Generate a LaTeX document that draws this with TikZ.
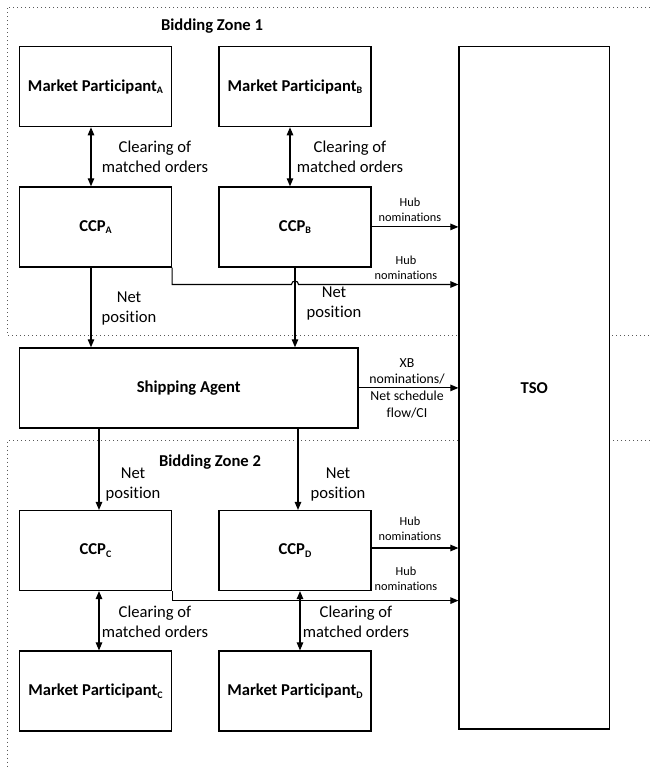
\documentclass[tikz,border=0pt]{standalone}
\usepackage{fontspec}
\setmainfont{Carlito}[Ligatures=NoCommon]
\usetikzlibrary{arrows.meta,calc}
\newcommand{\sbs}[1]{\raisebox{-2.6pt}{\fontsize{10}{10}\selectfont #1}}
\begin{document}
\begin{tikzpicture}[x=1pt,y=-1pt,
 box/.style={draw, line width=1.2pt, fill=white, inner sep=0pt, font=\fontsize{16.6}{20}\selectfont\bfseries},
 sbox/.style={box, minimum width=152pt, minimum height=80pt},
 lbl/.style={align=center, font=\fontsize{16.6}{20}\selectfont, inner sep=0pt},
 ttl/.style={font=\fontsize{16.6}{20}\selectfont\bfseries, inner sep=0pt},
 hub/.style={align=center, font=\fontsize{12.3}{14.8}\selectfont, inner sep=0pt},
 xb/.style={align=center, font=\fontsize{13.8}{16.7}\selectfont, inner sep=0pt},
 zone/.style={line width=0.9pt, black!65, dash pattern=on 1pt off 3pt},
 arr/.style={line width=1.1pt, -{Triangle[length=8pt,width=6.5pt]}},
 biarr/.style={line width=1.1pt, {Triangle[length=8pt,width=6.5pt]}-{Triangle[length=8pt,width=6.5pt]}},
]
\useasboundingbox (0,0) rectangle (650,769);
% zones
\draw[zone] (650,7) -- (7,7) -- (7,335) -- (650,335);
\draw[zone] (650,440.7) -- (7,440.7) -- (7,769);
\node[ttl] (bz1) at (212,26) {Bidding Zone 1};
\node[ttl] (bz2) at (210,462) {Bidding Zone 2};
% boxes
\node[sbox] (MPA) at (95.5,86.7) {Market Participant\sbs{A}};
\node[sbox] (MPB) at (295,86.7) {Market Participant\sbs{B}};
\node[sbox] (CCPA) at (95.5,226.9) {CCP\sbs{A}};
\node[sbox] (CCPB) at (295,226.9) {CCP\sbs{B}};
\node[box, minimum width=338.5pt, minimum height=80pt] (Ship) at (188.75,387.9) {Shipping Agent};
\node[sbox] (CCPC) at (95.5,550.5) {CCP\sbs{C}};
\node[sbox] (CCPD) at (295,550.5) {CCP\sbs{D}};
\node[sbox] (MPC) at (95.5,691) {Market Participant\sbs{C}};
\node[sbox] (MPD) at (295,691) {Market Participant\sbs{D}};
\node[box, minimum width=150.5pt, minimum height=682.5pt] (TSO) at (534.25,387.75) {TSO};
% zone 1 vertical connectors
\draw[biarr] ($(MPA.south)+(-4.5,0)$) -- ($(CCPA.north)+(-4.5,0)$);
\draw[biarr] ($(MPB.south)+(-5,0)$) -- ($(CCPB.north)+(-5,0)$);
\path ($(CCPA.south)+(-4.5,0)$) coordinate (na);
\draw[arr] (na) -- (na |- Ship.north);
\draw[arr] (CCPB.south) -- (CCPB.south |- Ship.north);
\node[lbl] (l1) at (155,157) {Clearing of\\matched orders};
\node[lbl] (l2) at (350,157) {Clearing of\\matched orders};
\node[lbl] (l3) at (129,309) {Net\\position};
\node[lbl] (l4) at (334,304) {Net\\position};
% hub nominations zone 1
\draw[arr] (CCPB.east) -- (TSO.west |- CCPB.east);
\path (CCPA.south east) ++(0,17) coordinate (h1);
\draw[arr] (CCPA.south east) -- (h1) -- ($(CCPB.south |- h1)+(-3.5,0)$) .. controls +(0,-4.6) and +(0,-4.6) .. ++(7,0) -- (TSO.west |- h1);
\node[hub] (hb1) at (410,210) {Hub\\nominations};
\node[hub] (hb2) at (406,267.5) {Hub\\nominations};
% XB
\draw[arr] (Ship.east) -- (TSO.west |- Ship.east);
\node[xb] (xbl) at (407,388) {XB\\nominations/\\Net schedule\\flow/CI};
% zone 2 vertical connectors
\path ($(CCPC.north)+(3.5,0)$) coordinate (nc);
\draw[arr] (nc |- Ship.south) -- (nc);
\path ($(CCPD.north)+(3,0)$) coordinate (nd);
\draw[arr] (nd |- Ship.south) -- (nd);
\draw[biarr] ($(CCPC.south)+(3.5,0)$) -- ($(MPC.north)+(3.5,0)$);
\draw[biarr] ($(CCPD.south)+(5,0)$) -- ($(MPD.north)+(5,0)$);
\node[lbl] (l5) at (133,485) {Net\\position};
\node[lbl] (l6) at (338,485) {Net\\position};
\node[lbl] (l7) at (155,622) {Clearing of\\matched orders};
\node[lbl] (l8) at (356,622) {Clearing of\\matched orders};
% hub nominations zone 2
\path ($(CCPD.east)+(0,-2.5)$) coordinate (hd);
\draw[arr] (hd) -- (TSO.west |- hd);
\path (CCPC.south east) ++(0,9.5) coordinate (h2);
\draw[arr] (CCPC.south east) -- (h2) -- (TSO.west |- h2);
\node[hub] (hb3) at (410,528.5) {Hub\\nominations};
\node[hub] (hb4) at (406,578.5) {Hub\\nominations};
\end{tikzpicture}
\end{document}
